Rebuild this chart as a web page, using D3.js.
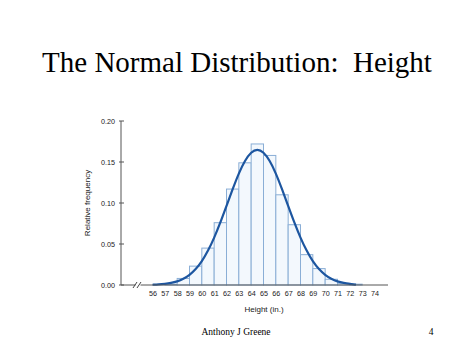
<!DOCTYPE html>
<html><head><meta charset="utf-8">
<script src="https://cdn.jsdelivr.net/npm/d3@7"></script>
<style>body{margin:0;background:#fff}svg{display:block}</style>
</head><body>
<svg id="c" width="474" height="355"></svg>
<script>
// Histogram bins (left edge, in inches) and relative frequencies
const binStarts = [57, 58, 59, 60, 61, 62, 63, 64, 65, 66, 67, 68, 69, 70, 71, 72];
const relFreq   = [0.001, 0.008, 0.023, 0.045, 0.076, 0.117, 0.149, 0.172, 0.158, 0.110, 0.0735, 0.037, 0.020, 0.007, 0.002, 0.001];
// Smooth curve points
const curveX = [56, 56.5, 57, 57.5, 58, 58.5, 59, 59.5, 60, 60.5, 61, 61.5, 62, 62.5, 63, 63.5, 64, 64.5, 65, 65.5, 66, 66.5, 67, 67.5, 68, 68.5, 69, 69.5, 70, 70.5, 71, 71.5, 72, 72.5];
const curveY = [0.0003, 0.0006, 0.0013, 0.0024, 0.0042, 0.0073, 0.012, 0.019, 0.0286, 0.0414, 0.0574, 0.076, 0.0965, 0.117, 0.1366, 0.152, 0.1624, 0.166, 0.1624, 0.152, 0.1366, 0.117, 0.0965, 0.076, 0.0574, 0.0414, 0.0286, 0.019, 0.012, 0.0073, 0.0042, 0.0024, 0.0013, 0.0004];
const xTicks = [56,57,58,59,60,61,62,63,64,65,66,67,68,69,70,71,72,73,74];
const yTicks = [0, 0.05, 0.10, 0.15, 0.20];

const svg = d3.select("#c");
const x = d3.scaleLinear().domain([56, 74]).range([152.5, 374.5]);
const y = d3.scaleLinear().domain([0, 0.20]).range([285, 121]);
const axisX0 = 121, axisX1 = 388;

// Title
svg.append("text").attr("x", 237).attr("y", 72).attr("text-anchor", "middle")
  .attr("font-family", "'Liberation Serif','Times New Roman',serif").attr("font-size", 29)
  .attr("fill", "#000").attr("xml:space","preserve").text("The Normal Distribution:  Height");

// Bars
const bars = binStarts.map((b, i) => ({b, v: relFreq[i]}));
svg.append("g").selectAll("rect").data(bars).join("rect")
  .attr("x", d => x(d.b)).attr("width", d => x(d.b + 1) - x(d.b))
  .attr("y", d => y(d.v)).attr("height", d => y(0) - y(d.v))
  .attr("fill", "#f3f8fd").attr("stroke", "#8aaed6").attr("stroke-width", 1);

// Curve
const line = d3.line().x((d, i) => x(curveX[i])).y(d => y(d)).curve(d3.curveBasis);
svg.append("path").datum(curveY).attr("d", line)
  .attr("fill", "none").attr("stroke", "#1d56a0").attr("stroke-width", 2.2);

// Y axis
const yAxis = d3.axisLeft(y).tickValues(yTicks).tickFormat(d3.format(".2f")).tickSize(0).tickPadding(6);
const gy = svg.append("g").attr("transform", `translate(${axisX0},0)`).call(yAxis);
gy.select(".domain").remove();
gy.selectAll("text").attr("font-family", "'Liberation Sans',Arial,sans-serif").attr("font-size", 7.2).attr("fill", "#1a1a1a");
svg.append("line").attr("x1", axisX0).attr("x2", axisX0).attr("y1", y(0.20)).attr("y2", y(0)).attr("stroke", "#555").attr("stroke-width", 1);
svg.append("g").selectAll("line").data(yTicks).join("line")
  .attr("x1", axisX0 - 2).attr("x2", axisX0 + 3).attr("y1", d => y(d)).attr("y2", d => y(d))
  .attr("stroke", "#555");

// X axis
const xAxis = d3.axisBottom(x).tickValues(xTicks).tickSize(0).tickPadding(6).tickFormat(d3.format("d"));
const gx = svg.append("g").attr("transform", `translate(0,${y(0)})`).call(xAxis);
gx.select(".domain").remove();
gx.selectAll("text").attr("font-family", "'Liberation Sans',Arial,sans-serif").attr("font-size", 7.2).attr("fill", "#1a1a1a");
svg.append("line").attr("x1", axisX0).attr("x2", 135.5).attr("y1", y(0)).attr("y2", y(0)).attr("stroke", "#555");
svg.append("line").attr("x1", 140.5).attr("x2", axisX1).attr("y1", y(0)).attr("y2", y(0)).attr("stroke", "#555");
[134.5, 138.5].forEach(bx => {
  svg.append("line").attr("x1", bx - 1.5).attr("x2", bx + 2.5).attr("y1", y(0) + 3).attr("y2", y(0) - 3).attr("stroke", "#444");
});

// Axis titles
svg.append("text").attr("transform", "translate(90,203) rotate(-90)").attr("text-anchor", "middle")
  .attr("font-family", "'Liberation Sans',Arial,sans-serif").attr("font-size", 8).attr("fill", "#1a1a1a").text("Relative frequency");
svg.append("text").attr("x", 264).attr("y", 312).attr("text-anchor", "middle")
  .attr("font-family", "'Liberation Sans',Arial,sans-serif").attr("font-size", 8).attr("fill", "#1a1a1a").text("Height (in.)");

// Footer
svg.append("text").attr("x", 236).attr("y", 335).attr("text-anchor", "middle")
  .attr("font-family", "'Liberation Serif','Times New Roman',serif").attr("font-size", 9.5).attr("fill", "#000").text("Anthony J Greene");
svg.append("text").attr("x", 431).attr("y", 335).attr("text-anchor", "middle")
  .attr("font-family", "'Liberation Serif','Times New Roman',serif").attr("font-size", 9.5).attr("fill", "#000").text("4");
</script>
</body></html>
